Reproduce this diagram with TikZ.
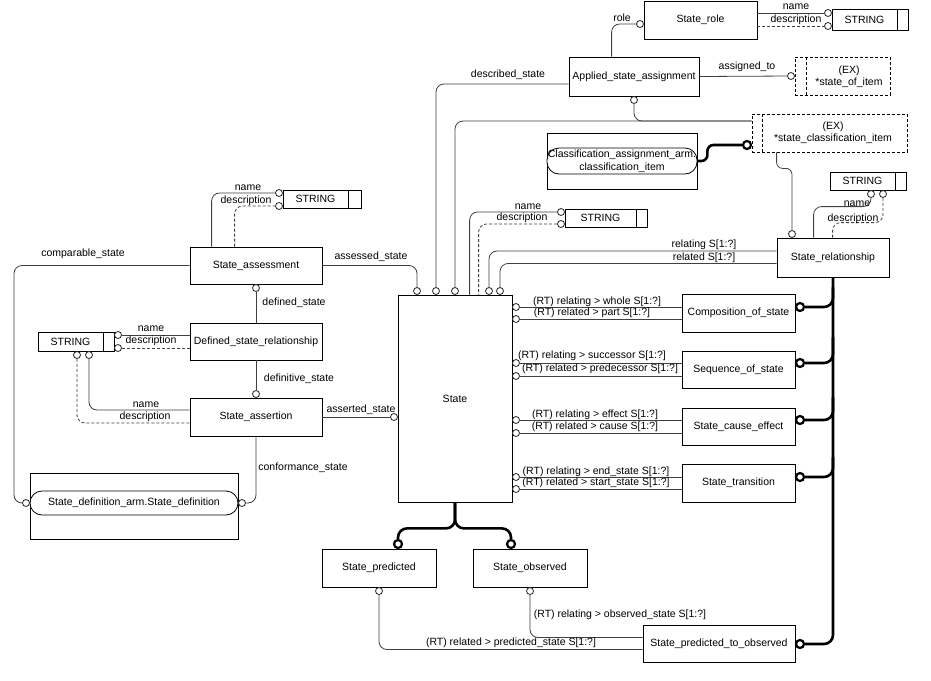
\documentclass[tikz,border=0pt]{standalone}
\usepackage{fontspec}
\setmainfont{Liberation Sans}
\usetikzlibrary{calc}
\newcommand\dfont{\fontsize{10.5}{12.5}\selectfont}
\tikzset{
  ent/.style={draw=black, line width=0.8pt, fill=white, inner sep=0pt, font=\dfont, align=center},
  exbox/.style={ent, dash pattern=on 3pt off 2pt},
  rbox/.style={ent, rounded corners=12pt},
  lbl/.style={inner sep=0pt, font=\dfont},
  conn/.style={draw=black!75, line width=0.8pt, rounded corners=8pt},
  dconn/.style={conn, dash pattern=on 3pt off 2pt},
  oc/.style={circle, draw=black!85, line width=0.8pt, fill=white, minimum size=7pt, inner sep=0pt},
  thk/.style={draw=black, line width=2.6pt, rounded corners=9pt},
  toc/.style={circle, draw=black, line width=2.2pt, fill=white, minimum size=8pt, inner sep=0pt},
  divl/.style={draw=black, line width=0.8pt},
}
\begin{document}
\begin{tikzpicture}[x=1pt,y=-1pt]
\useasboundingbox (0,0) rectangle (931,680);
\fill[white] (0,0) rectangle (931,680);

% ---------- entities ----------
\node[ent, minimum width=113pt, minimum height=38pt] (sr) at (700.5,20) {State\_role};
\node[ent, minimum width=76pt, minimum height=21pt] (str1) at (870,19.5) {STRING\hspace{11pt}};
\draw[divl] ([xshift=-11pt]str1.north east) -- ([xshift=-11pt]str1.south east);
\node[ent, minimum width=130pt, minimum height=39pt] (asa) at (634,76.5) {Applied\_state\_assignment};
\node[exbox, minimum width=95pt, minimum height=38pt] (ex1) at (842.5,76) {};
\draw[divl, dash pattern=on 3pt off 2pt] ([xshift=12pt]ex1.north west) -- ([xshift=12pt]ex1.south west);
\node[lbl, align=center] (ex1t) at (849,76.5) {(EX)\\{}*state\_of\_item};
\node[exbox, minimum width=155pt, minimum height=38pt] (ex2) at (829.5,133) {};
\draw[divl, dash pattern=on 3pt off 2pt] ([xshift=11pt]ex2.north west) -- ([xshift=11pt]ex2.south west);
\node[lbl, align=center] (ex2t) at (833,132.5) {(EX)\\{}*state\_classification\_item};
\node[ent, minimum width=150pt, minimum height=56pt] (caa) at (622,161) {};
\node[rbox, minimum width=150pt, minimum height=26pt] (caai) at (622,161) {Classification\_assignment\_arm.\\classification\_item};
\node[ent, minimum width=82pt, minimum height=18pt] (str2) at (606,218) {STRING\hspace{11pt}};
\draw[divl] ([xshift=-11pt]str2.north east) -- ([xshift=-11pt]str2.south east);
\node[ent, minimum width=76pt, minimum height=18pt] (str3) at (868,181) {STRING\hspace{11pt}};
\draw[divl] ([xshift=-11pt]str3.north east) -- ([xshift=-11pt]str3.south east);
\node[ent, minimum width=112pt, minimum height=39pt] (srel) at (833,257.5) {State\_relationship};
\node[ent, minimum width=78pt, minimum height=18pt] (str4) at (322,199) {STRING\hspace{13pt}};
\draw[divl] ([xshift=-13pt]str4.north east) -- ([xshift=-13pt]str4.south east);
\node[ent, minimum width=132pt, minimum height=37pt] (sa) at (256,265.5) {State\_assessment};
\node[ent, minimum width=132pt, minimum height=37pt] (dsr) at (256,341.5) {Defined\_state\_relationship};
\node[ent, minimum width=76pt, minimum height=19pt] (str5) at (76,341.5) {STRING\hspace{11pt}};
\draw[divl] ([xshift=-11pt]str5.north east) -- ([xshift=-11pt]str5.south east);
\node[ent, minimum width=132pt, minimum height=38pt] (sas) at (256,417) {State\_assertion};
\node[ent, minimum width=208pt, minimum height=66pt] (sd) at (134,506) {};
\node[rbox, minimum width=208pt, minimum height=24pt] (sdi) at (134,503) {State\_definition\_arm.State\_definition};
\node[ent, minimum width=114pt, minimum height=207pt] (st) at (455,398.5) {State};
\node[ent, minimum width=113pt, minimum height=38pt] (cos) at (738.5,313) {Composition\_of\_state};
\node[ent, minimum width=113pt, minimum height=37pt] (sos) at (738.5,369.5) {Sequence\_of\_state};
\node[ent, minimum width=113pt, minimum height=37pt] (sce) at (738.5,426.5) {State\_cause\_effect};
\node[ent, minimum width=113pt, minimum height=38pt] (stt) at (738.5,483) {State\_transition};
\node[ent, minimum width=114pt, minimum height=38pt] (sp) at (379,568) {State\_predicted};
\node[ent, minimum width=114pt, minimum height=38pt] (so) at (530,568) {State\_observed};
\node[ent, minimum width=152pt, minimum height=37pt] (spo) at (719,643.5) {State\_predicted\_to\_observed};

% ---------- small circles ----------
\node[oc] (crole) at (640,24) {};
\node[oc] (cn1) at (828,13) {};
\node[oc] (cd1) at (828,26) {};
\node[oc] (cat) at (791,76) {};
\node[oc] (casa) at (634,100) {};
\node[oc] (cS1) at (417,291) {};
\node[oc] (cS2) at (436,291) {};
\node[oc] (cS3) at (455,291) {};
\node[oc] (cS4) at (489,291) {};
\node[oc] (cS5) at (500,291) {};
\node[oc] (cn2) at (561,212) {};
\node[oc] (cd2) at (561,224) {};
\node[oc] (csr) at (792,234) {};
\node[oc] (cn3) at (871,194) {};
\node[oc] (cd3) at (883,194) {};
\node[oc] (cn4) at (279,193) {};
\node[oc] (cd4) at (279,206) {};
\node[oc] (cds) at (256,288) {};
\node[oc] (cn5) at (118,335) {};
\node[oc] (cd5) at (118,348) {};
\node[oc] (cn6) at (89,355) {};
\node[oc] (cd6) at (77,355) {};
\node[oc] (cdef) at (256,394) {};
\node[oc] (cas) at (394,417) {};
\node[oc] (csdl) at (26,503) {};
\node[oc] (ccon) at (242,503) {};
\node[oc] (cR1) at (516,307) {};
\node[oc] (cR2) at (516,319) {};
\node[oc] (cR3) at (516,363) {};
\node[oc] (cR4) at (516,376) {};
\node[oc] (cR5) at (516,420) {};
\node[oc] (cR6) at (516,433) {};
\node[oc] (cR7) at (516,477) {};
\node[oc] (cR8) at (516,489) {};
\node[oc] (cp) at (379,591) {};
\node[oc] (co) at (530,591) {};

% ---------- thick circles ----------
\node[toc] (ccl) at (747,145) {};
\node[toc] (cT1) at (800,307) {};
\node[toc] (cT2) at (800,363) {};
\node[toc] (cT3) at (800,420) {};
\node[toc] (cT4) at (800,477) {};
\node[toc] (cT5) at (800,644) {};
\node[toc] (cTp) at (398,544) {};
\node[toc] (cTo) at (511,544) {};

% ---------- thin connectors ----------
\draw[conn] ($(asa.north west)+(43,0)$) |- (crole);
\draw[conn] (cn1 -| sr.east) -- (cn1);
\draw[dconn] (cd1 -| sr.east) -- (cd1);
\draw[conn] (asa.east) -- (cat);
\draw[conn] ($(asa.west)+(0,7.5)$) -| (cS2);
\draw[conn] ($(ex2.west)+(0,-12)$) -| (cS3);
\draw[conn] (casa) |- ($(ex2.west)+(0,-12)$);
\draw[conn, rounded corners=6pt] ($(ex2.south west)+(25,0)$) -- ++(0,16) -| (csr);
\draw[conn] (cn3) |- ($(srel.north west)+(37,-31)$) -- ($(srel.north west)+(37,0)$);
\draw[dconn] (cd3) |- ($(srel.north west)+(56,-15)$) -- ($(srel.north west)+(56,0)$);
\draw[conn] ($(srel.west)+(0,-6.5)$) -| (cS4);
\draw[conn] ($(srel.west)+(0,6)$) -| (cS5);
\draw[conn] (cn2) -| ($(st.north west)+(72,0)$);
\draw[dconn] (cd2) -| ($(st.north west)+(81,0)$);
\draw[conn] (sa.east) -| (cS1);
\draw[conn] (sa.west) -| ($(csdl)+(-12,0)$) -- (csdl);
\draw[conn] ($(sa.north west)+(22,0)$) |- (cn4);
\draw[dconn] ($(sa.north west)+(45,0)$) |- (cd4);
\draw[conn] (cds) -- (dsr.north);
\draw[conn] (cn5) -- (cn5 -| dsr.west);
\draw[dconn] (cd5) -- (cd5 -| dsr.west);
\draw[conn] (cn6) |- ($(sas.west)+(0,-7)$);
\draw[dconn] (cd6) |- ($(sas.west)+(0,6)$);
\draw[conn] (dsr.south) -- (cdef);
\draw[conn] (sas.east) -- (cas);
\draw[conn] (sas.south) |- (ccon);
\draw[conn] (cR1) -- (cR1 -| cos.west);
\draw[conn] (cR2) -- (cR2 -| cos.west);
\draw[conn] (cR3) -- (cR3 -| sos.west);
\draw[conn] (cR4) -- (cR4 -| sos.west);
\draw[conn] (cR5) -- (cR5 -| sce.west);
\draw[conn] (cR6) -- (cR6 -| sce.west);
\draw[conn] (cR7) -- (cR7 -| stt.west);
\draw[conn] (cR8) -- (cR8 -| stt.west);
\draw[conn] (cp) |- ($(spo.west)+(0,6)$);
\draw[conn] (co) |- ($(spo.west)+(0,-6)$);

% ---------- thick connectors ----------
\draw[thk, rounded corners=6pt] (caai.east) -- ++(10,0) |- (ccl);
\draw[thk] (srel.south) |- (cT5);
\draw[thk] (cT1) -| ($(srel.south)+(0,10)$);
\draw[thk] (cT2) -| ($(srel.south)+(0,60)$);
\draw[thk] (cT3) -| ($(srel.south)+(0,120)$);
\draw[thk] (cT4) -| ($(srel.south)+(0,180)$);
\draw[thk] (st.south) -- ($(st.south)+(0,26)$) -| (cTp);
\draw[thk] (st.south) -- ($(st.south)+(0,26)$) -| (cTo);

% ---------- labels ----------
\node[lbl] (l1) at (622,18) {role};
\node[lbl] (l2) at (796,7) {name};
\node[lbl] (l3) at (796,19.5) {description};
\node[lbl] (l4) at (747,67) {assigned\_to};
\node[lbl] (l5) at (508,75) {described\_state};
\node[lbl] (l6) at (704,245) {relating S[1:?]};
\node[lbl] (l7) at (704,258) {related S[1:?]};
\node[lbl] (l8) at (528,207) {name};
\node[lbl] (l9) at (522,218) {description};
\node[lbl] (l10) at (857,204) {name};
\node[lbl] (l11) at (853,219) {description};
\node[lbl] (l12) at (83,254) {comparable\_state};
\node[lbl] (l13) at (371,257) {assessed\_state};
\node[lbl] (l14) at (248,188) {name};
\node[lbl] (l15) at (246,201) {description};
\node[lbl] (l16) at (294,303) {defined\_state};
\node[lbl] (l17) at (151,329) {name};
\node[lbl] (l18) at (151,341) {description};
\node[lbl] (l19) at (146,405) {name};
\node[lbl] (l20) at (145,417) {description};
\node[lbl] (l21) at (299,379) {definitive\_state};
\node[lbl] (l22) at (361,410) {asserted\_state};
\node[lbl] (l23) at (303,468) {conformance\_state};
\node[lbl] (l24) at (597,302) {(RT) relating > whole S[1:?]};
\node[lbl] (l25) at (592,313) {(RT) related > part S[1:?]};
\node[lbl] (l26) at (592,356) {(RT) relating > successor S[1:?]};
\node[lbl] (l27) at (600,369) {(RT) related > predecessor S[1:?]};
\node[lbl] (l28) at (595,415) {(RT) relating > effect S[1:?]};
\node[lbl] (l29) at (595,427) {(RT) related > cause S[1:?]};
\node[lbl] (l30) at (596,472) {(RT) relating > end\_state S[1:?]};
\node[lbl] (l31) at (596,483) {(RT) related > start\_state S[1:?]};
\node[lbl] (l32) at (511,643) {(RT) related > predicted\_state S[1:?]};
\node[lbl] (l33) at (620,615) {(RT) relating > observed\_state S[1:?]};
\end{tikzpicture}
\end{document}
